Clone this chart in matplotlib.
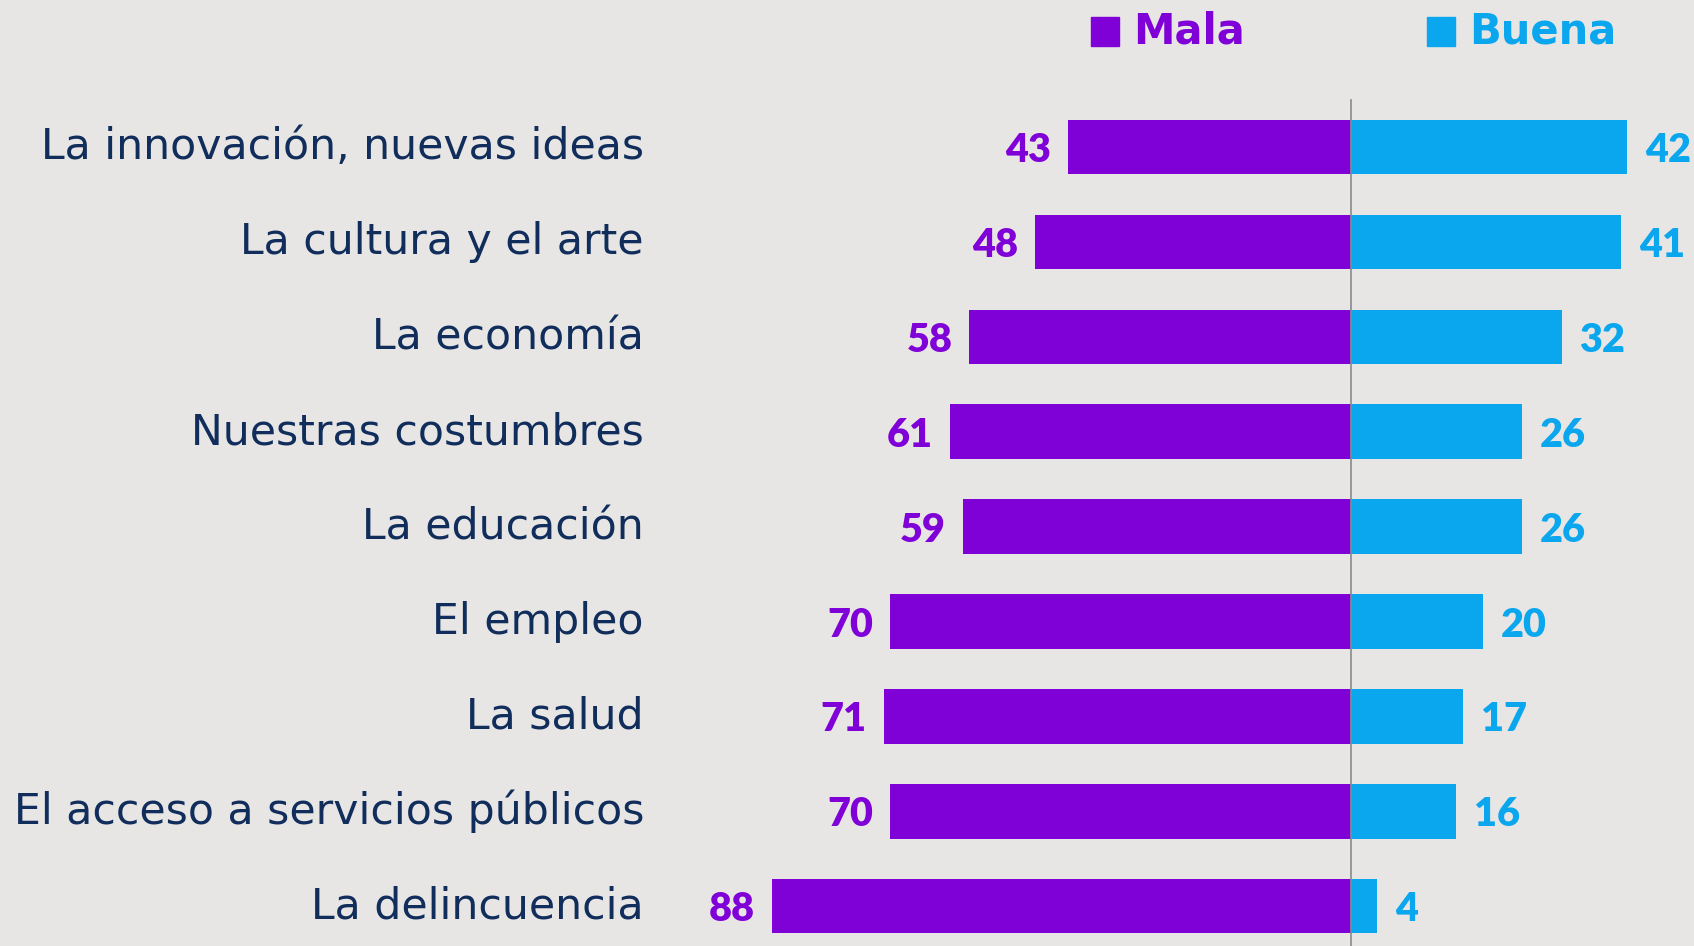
import matplotlib
matplotlib.use("Agg")
import matplotlib.pyplot as plt
from matplotlib.patches import Rectangle

categories = ["La innovación, nuevas ideas", "La cultura y el arte", "La economía",
              "Nuestras costumbres", "La educación", "El empleo", "La salud",
              "El acceso a servicios públicos", "La delincuencia"]
mala = [43, 48, 58, 61, 59, 70, 71, 70, 88]
buena = [42, 41, 32, 26, 26, 20, 17, 16, 4]
series_names = ["Mala", "Buena"]

BG = "#e8e6e4"
PURPLE = "#8000d8"
BLUE = "#0aa6ee"
NAVY = "#102d5b"

W, H = 1694, 946
fig = plt.figure(figsize=(W / 100, H / 100), dpi=100, facecolor=BG)
ax_left = 700
ax = fig.add_axes([ax_left / W, 0, 1 - ax_left / W, 1], facecolor=BG)

scale = 6.58  # px per unit
center_px = 1351
ax.set_xlim(-(center_px - ax_left) / scale, (W - center_px) / scale)
pitch = 94.9
first = 147
ax.set_ylim((H - first) / pitch, -first / pitch)

y = list(range(len(categories)))
bh = 0.574
ax.barh(y, [-m for m in mala], height=bh, color=PURPLE, zorder=2)
ax.barh(y, buena, height=bh, color=BLUE, zorder=2)
ax.plot([0, 0], [(100 - first) / pitch, (H - first) / pitch], color="#8a8a8a", lw=1.2, zorder=3)

lab_font = "DejaVu Sans"
num_font = "Lato"
lab_x = -(center_px - 644) / scale
for yi, cat, m, b in zip(y, categories, mala, buena):
    ax.text(lab_x, yi + 12.5 / pitch, cat, ha="right", va="baseline", color=NAVY,
            fontsize=30.7, family=lab_font)
    ax.text(-m - 17 / scale, yi + 15 / pitch, str(m), ha="right", va="baseline", color=PURPLE,
            fontsize=28.5, fontweight="heavy", family=num_font)
    ax.text(b + 18 / scale, yi + 15 / pitch, str(b), ha="left", va="baseline", color=BLUE,
            fontsize=28.5, fontweight="heavy", family=num_font)

ax.set_yticks([])
ax.set_xticks([])
for s in ax.spines.values():
    s.set_visible(False)

# legend
for (x0, x1, name, col) in [(1091, 1133, series_names[0], PURPLE), (1427, 1469, series_names[1], BLUE)]:
    fig.patches.append(Rectangle((x0 / W, 1 - 46 / H), 28 / W, 29 / H,
                                 transform=fig.transFigure, color=col))
    fig.text(x1 / W, 1 - 43 / H, name, color=col, fontsize=30, fontweight="bold",
             family="DejaVu Sans", ha="left", va="baseline")

fig.savefig("out.png", dpi=100, facecolor=BG)
